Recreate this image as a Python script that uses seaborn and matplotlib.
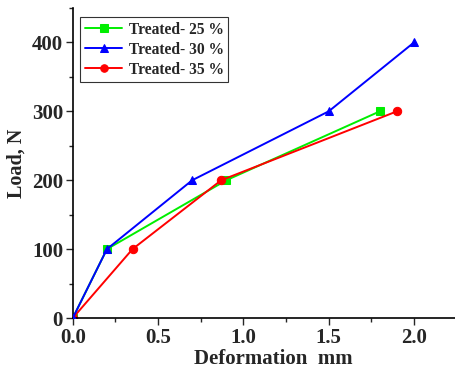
import matplotlib
matplotlib.use("Agg")
import matplotlib.pyplot as plt
import seaborn as sns
import pandas as pd
from matplotlib.ticker import MultipleLocator

x25 = [0, 0.2, 0.9, 1.8]
y25 = [0, 100, 200, 300]
x30 = [0, 0.2, 0.7, 1.5, 2.0]
y30 = [0, 100, 200, 300, 400]
x35 = [0, 0.35, 0.87, 1.9]
y35 = [0, 100, 200, 300]
labels = ["Treated- 25 %", "Treated- 30 %", "Treated- 35 %"]

sns.set_style("ticks")
plt.rcParams['font.family'] = ['Liberation Serif', 'DejaVu Serif']
plt.rcParams['font.weight'] = 'bold'

fig = plt.figure(figsize=(4.55, 3.7), dpi=100)
ax = fig.add_axes([0.160, 0.1405, 0.84, 0.838])

series = [(x25, y25, labels[0], '#00ee00', 's'),
          (x30, y30, labels[1], '#0000ff', '^'),
          (x35, y35, labels[2], '#ff0000', 'o')]
for xs, ys, lab, col, mk in series:
    df = pd.DataFrame({'x': xs, 'y': ys})
    sns.lineplot(data=df, x='x', y='y', ax=ax, color=col, marker=mk,
                 markersize=6, markeredgecolor=col, linewidth=1.4, label=lab,
                 sort=False)

ax.lines[1].set_zorder(3)

ax.set_xlim(0, 2.24)
ax.set_ylim(0, 450)
ax.xaxis.set_major_locator(MultipleLocator(0.5))
ax.xaxis.set_minor_locator(MultipleLocator(0.25))
ax.yaxis.set_major_locator(MultipleLocator(100))
ax.yaxis.set_minor_locator(MultipleLocator(50))
ax.tick_params(which='major', length=5, width=1, labelsize=15, direction='out', pad=2)
ax.tick_params(which='minor', length=3, width=1, direction='out')
for lbl in ax.get_xticklabels() + ax.get_yticklabels():
    lbl.set_fontweight('bold')
sns.despine(ax=ax)
for s in ['left', 'bottom']:
    ax.spines[s].set_linewidth(1.2)
    ax.spines[s].set_color('black')

ax.set_xlabel("Deformation  mm", fontsize=15, fontweight='bold', labelpad=0)
ax.xaxis.set_label_coords(0.525, -0.1)
ax.set_ylabel("Load, N", fontsize=14.5, fontweight='bold', labelpad=4)

leg = ax.legend(loc='upper left', bbox_to_anchor=(0.02, 0.97), frameon=True,
                fancybox=False, edgecolor='black', fontsize=11.2,
                handlelength=2.4, borderpad=0.3, labelspacing=0.25,
                handletextpad=0.4, borderaxespad=0, markerscale=0.9)
leg.get_frame().set_linewidth(0.8)
for t in leg.get_texts():
    t.set_fontweight('bold')

fig.savefig("out.png", dpi=100)
